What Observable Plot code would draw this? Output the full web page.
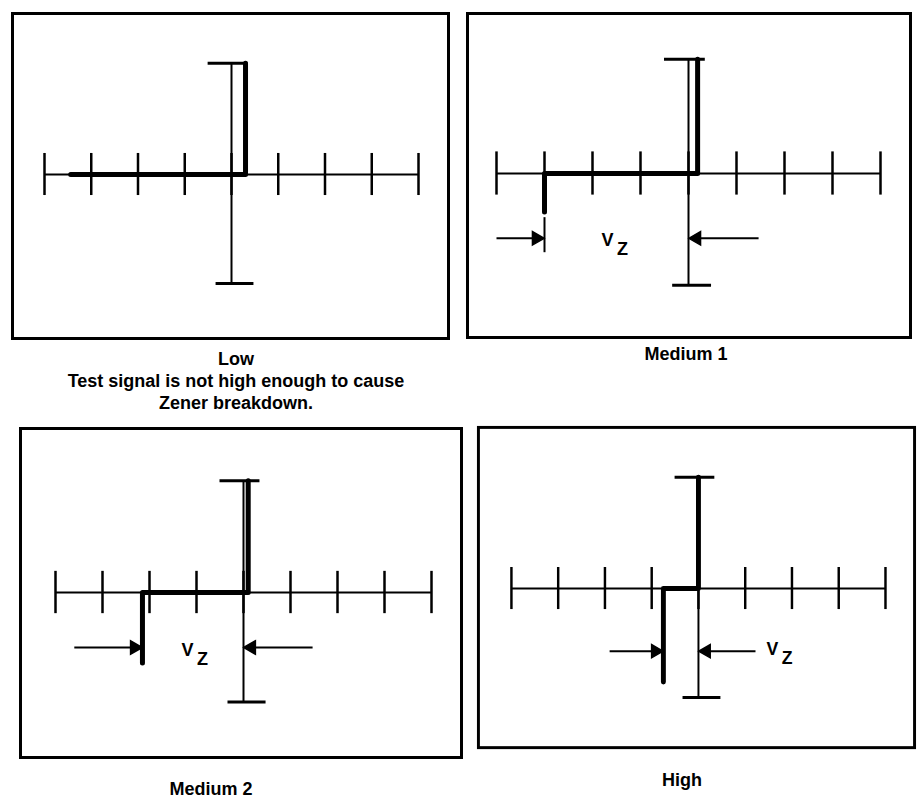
<!DOCTYPE html>
<html><head><meta charset="utf-8">
<script src="https://cdn.jsdelivr.net/npm/d3@7"></script>
<script src="https://cdn.jsdelivr.net/npm/@observablehq/plot@0.6"></script>
<style>
body{margin:0;background:#fff;}
#page{position:relative;width:918px;height:798px;overflow:hidden;background:#fff;font-family:"Liberation Sans",Arial,sans-serif;}
.panel{position:absolute;}
.cap{position:absolute;width:420px;text-align:center;font-weight:bold;font-size:18px;line-height:22px;color:#000;white-space:nowrap;}
</style></head><body><div id="page"></div>
<script>
// ---- data (graticule divisions) ----
const panelNames = ["Low", "Medium 1", "Medium 2", "High"];
const captionLines = [
  ["Low", "Test signal is not high enough to cause", "Zener breakdown."],
  ["Medium 1"], ["Medium 2"], ["High"]
];
const graticuleTicks = [-4, -3, -2, -1, 0, 1, 2, 3, 4];
const verticalTop = 2.38, verticalBottom = -2.33;
const traceLow     = [[-3.44, 0], [0.3, 0], [0.3, 2.38]];
const traceMedium1 = [[-3.0, -0.8], [-3.0, 0], [0.19, 0], [0.19, 2.38]];
const traceMedium2 = [[-2.15, -1.5], [-2.15, 0], [0.1, 0], [0.1, 2.38]];
const traceHigh    = [[-0.75, -2.0], [-0.75, 0], [0, 0], [0, 2.38]];
const traces = [traceLow, traceMedium1, traceMedium2, traceHigh];
const zenerKnee   = [null, -3.0, -2.15, -0.75];
const vzArrowY    = [null, -1.35, -1.17, -1.34];
const vzLeftTail  = [null, -4.0, -3.6, -1.9];
const vzRightTail = [null, 1.46, 1.47, 1.22];
const vzExtension = [null, [-0.92, -1.65], null, null];
const vzLabelX    = [null, -1.69, -1.19, 1.58];
const vzLabelY    = [null, -1.40, -1.23, -1.30];

// ---- layout (pixels) ----
const layouts = [
  {x0: 12, y0: 13, x1: 448, y1: 338, cx: 231, cy: 174, s: 46.75},
  {x0: 467, y0: 13, x1: 910, y1: 337, cx: 688, cy: 173, s: 48},
  {x0: 20, y0: 428, x1: 461, y1: 757, cx: 243, cy: 592, s: 47},
  {x0: 478, y0: 427, x1: 922, y1: 753, cx: 702, cy: 591, s: 47.6}
];
const captionPos = [
  {cx: 236, top: 348}, {cx: 686, top: 343}, {cx: 211, top: 778}, {cx: 682, top: 769}
];
const pad = 4;

const page = document.getElementById("page");

panelNames.forEach((name, i) => {
  const L = layouts[i];
  const marks = [
    Plot.frame({stroke: "black", strokeWidth: 3}),
    Plot.ruleY([0], {x1: graticuleTicks[0], x2: graticuleTicks[graticuleTicks.length - 1], stroke: "black", strokeWidth: 2}),
    Plot.ruleX(graticuleTicks, {y1: -0.45, y2: 0.45, stroke: "black", strokeWidth: 2.5}),
    Plot.ruleX([0], {y1: verticalBottom, y2: verticalTop, stroke: "black", strokeWidth: 2}),
    Plot.ruleY([verticalTop], {x1: -0.5, x2: 0.35, stroke: "black", strokeWidth: 3}),
    Plot.ruleY([verticalBottom], {x1: -0.33, x2: 0.48, stroke: "black", strokeWidth: 3}),
    Plot.line(traces[i], {x: d => d[0], y: d => d[1], stroke: "black", strokeWidth: 5, strokeLinejoin: "round", strokeLinecap: "round"})
  ];
  if (zenerKnee[i] !== null) {
    const y = vzArrowY[i];
    const arrows = [
      {x1: vzLeftTail[i], x2: zenerKnee[i] - 0.07, y, rot: 90},
      {x1: vzRightTail[i], x2: 0.07, y, rot: -90}
    ];
    marks.push(
      Plot.link(arrows, {x1: "x1", x2: "x2", y1: "y", y2: "y", stroke: "black", strokeWidth: 2}),
      Plot.dot(arrows, {x: d => d.x2 + (d.rot > 0 ? -0.1 : 0.1), y: "y", symbol: "triangle", rotate: "rot", r: 5, fill: "black", stroke: "black", strokeWidth: 1.5})
    );
    if (vzExtension[i]) {
      marks.push(Plot.ruleX([zenerKnee[i]], {y1: vzExtension[i][0], y2: vzExtension[i][1], stroke: "black", strokeWidth: 2}));
    }
    marks.push(
      Plot.text([{x: vzLabelX[i], y: vzLabelY[i]}], {x: "x", y: "y", text: () => "V", fontSize: 18, fontWeight: "bold", fill: "black"}),
      Plot.text([{x: vzLabelX[i], y: vzLabelY[i]}], {x: "x", y: "y", text: () => "Z", dx: 15, dy: 9, fontSize: 18, fontWeight: "bold", fill: "black"})
    );
  }
  const chart = Plot.plot({
    width: L.x1 - L.x0 + 2 * pad,
    height: L.y1 - L.y0 + 2 * pad,
    margin: pad,
    x: {domain: [(L.x0 - L.cx) / L.s, (L.x1 - L.cx) / L.s], axis: null},
    y: {domain: [(L.cy - L.y1) / L.s, (L.cy - L.y0) / L.s], axis: null},
    style: {background: "transparent", fontFamily: "Liberation Sans, Arial, sans-serif", overflow: "visible"},
    marks
  });
  const wrap = document.createElement("div");
  wrap.className = "panel";
  wrap.style.left = (L.x0 - pad) + "px";
  wrap.style.top = (L.y0 - pad) + "px";
  wrap.appendChild(chart);
  page.appendChild(wrap);

  const cap = document.createElement("div");
  cap.className = "cap";
  cap.style.left = (captionPos[i].cx - 210) + "px";
  cap.style.top = captionPos[i].top + "px";
  cap.innerHTML = captionLines[i].map(t => `<div>${t}</div>`).join("");
  page.appendChild(cap);
});
</script></body></html>
